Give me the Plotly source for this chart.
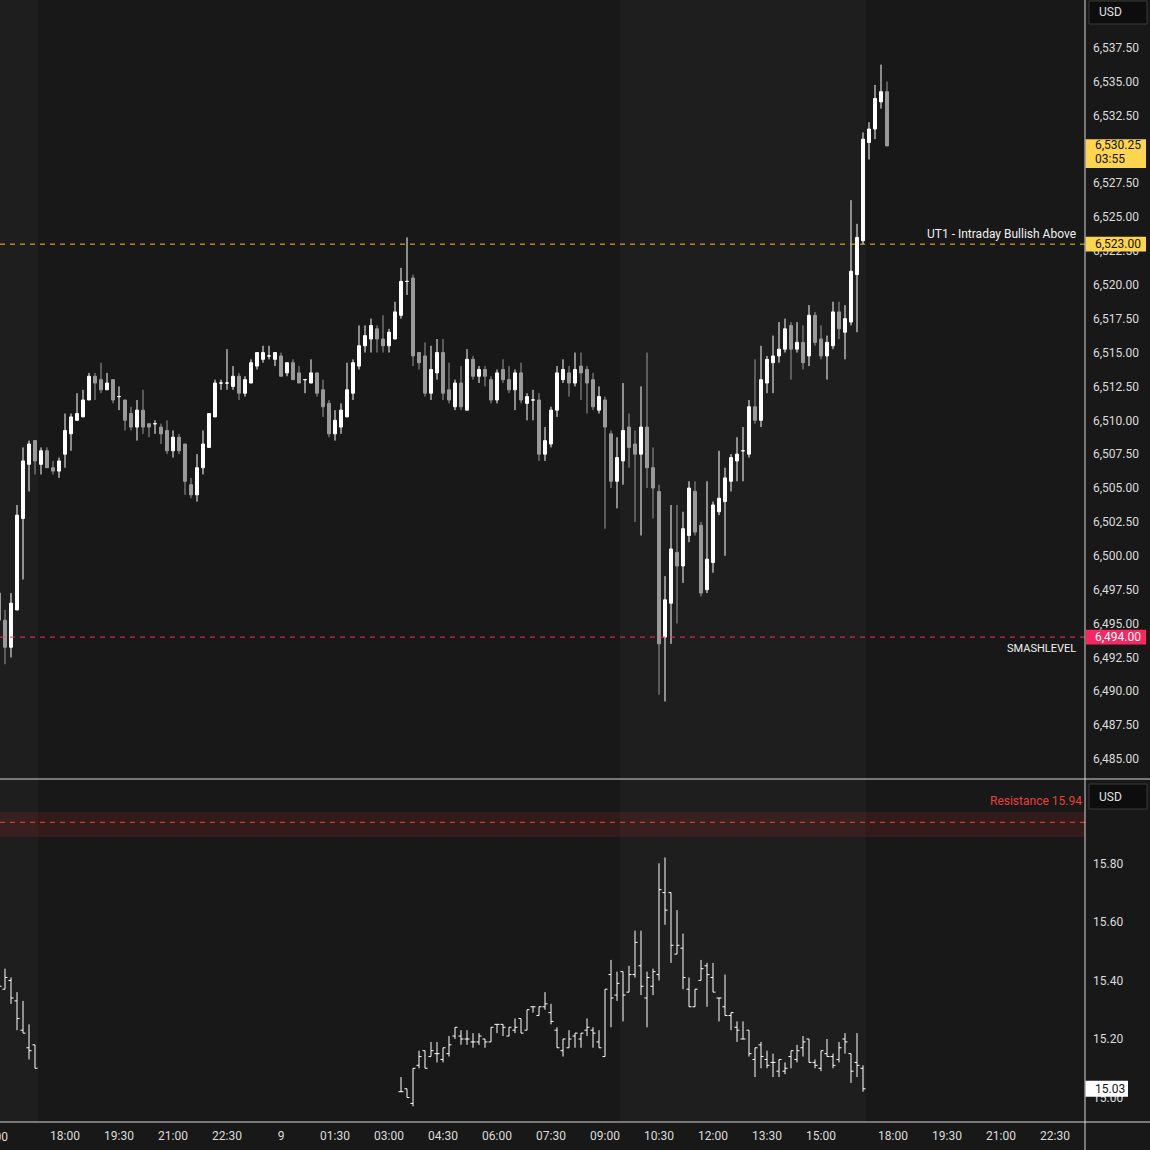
import plotly.graph_objects as go

# ---------------- ES 10-minute candles (bar index -1 .. 147) ----------------
bar = list(range(-1, 148))
es_open = [
    6497.25,
    6495.25, 6493.25, 6496.0, 6502.75, 6506.75, 6508.5, 6506.75, 6507.75, 6506.5, 6506.25,
    6507.5, 6509.0, 6510.0, 6510.25, 6511.5, 6513.25, 6513.0, 6512.25, 6513.0, 6511.75,
    6511.5, 6510.5, 6509.5, 6510.75, 6509.75, 6509.75, 6509.5, 6509.25, 6507.75, 6508.75,
    6508.25, 6505.25, 6504.5, 6506.5, 6508.0, 6510.25, 6512.75, 6512.75, 6512.5, 6513.25,
    6512.0, 6512.75, 6514.0, 6514.5, 6514.75, 6514.5, 6514.75, 6513.5, 6514.25, 6513.5,
    6513.0, 6512.75, 6513.5, 6512.25, 6511.25, 6509.0, 6509.5, 6510.25, 6512.0, 6514.0,
    6515.5, 6516.0, 6516.75, 6516.0, 6515.5, 6516.0, 6517.75, 6520.25, 6520.5, 6515.0,
    6514.75, 6512.0, 6513.5, 6515.0, 6512.25, 6511.0, 6512.75, 6510.75, 6514.5, 6513.25,
    6513.75, 6513.0, 6511.5, 6513.75, 6513.0, 6512.25, 6513.5, 6511.25, 6511.5, 6511.5,
    6507.5, 6508.25, 6510.75, 6513.0, 6513.5, 6512.75, 6514.0, 6513.75, 6513.0, 6510.75,
    6511.5, 6509.0, 6505.5, 6507.0, 6509.5, 6508.25, 6507.5, 6509.5, 6506.5, 6504.75,
    6494.0, 6496.5, 6500.25, 6499.25, 6501.5, 6504.75, 6502.25, 6497.5, 6499.5, 6503.25,
    6504.0, 6505.5, 6507.0, 6507.75, 6507.5, 6511.0, 6510.0, 6512.75, 6514.25, 6514.75,
    6515.25, 6517.0, 6515.25, 6515.75, 6514.75, 6517.75, 6516.0, 6514.75, 6515.5, 6518.0,
    6516.5, 6517.25, 6520.75, 6523.25, 6530.5, 6531.5, 6533.5, 6534.25,
]
es_high = [
    6497.5,
    6496.0, 6497.25, 6503.75, 6508.0, 6508.5, 6508.5, 6508.0, 6508.0, 6507.0, 6507.25,
    6510.5, 6510.5, 6512.0, 6512.25, 6513.5, 6513.5, 6514.25, 6513.5, 6513.0, 6512.5,
    6511.5, 6511.0, 6511.5, 6512.25, 6509.75, 6510.0, 6509.75, 6510.0, 6509.25, 6509.0,
    6508.25, 6505.75, 6507.5, 6509.25, 6510.5, 6513.0, 6513.0, 6515.25, 6514.0, 6513.5,
    6513.25, 6514.5, 6515.0, 6515.5, 6515.5, 6515.0, 6515.0, 6514.25, 6514.5, 6514.0,
    6513.0, 6514.5, 6513.5, 6513.0, 6511.5, 6510.75, 6511.25, 6514.25, 6514.5, 6517.0,
    6517.0, 6517.5, 6517.0, 6517.75, 6516.75, 6518.75, 6521.25, 6523.5, 6520.75, 6515.0,
    6515.75, 6515.5, 6516.0, 6516.0, 6514.25, 6513.0, 6514.0, 6515.25, 6514.75, 6514.0,
    6514.0, 6513.25, 6513.75, 6514.5, 6514.0, 6513.75, 6514.25, 6512.0, 6512.25, 6512.0,
    6509.5, 6511.0, 6514.0, 6514.5, 6514.0, 6515.0, 6515.0, 6514.0, 6513.5, 6512.5,
    6511.75, 6509.25, 6508.75, 6512.75, 6510.5, 6509.25, 6512.5, 6515.0, 6508.0, 6505.25,
    6498.5, 6503.75, 6503.75, 6503.25, 6505.5, 6505.5, 6502.5, 6505.5, 6504.0, 6507.75,
    6506.5, 6507.5, 6508.75, 6509.5, 6511.5, 6514.5, 6515.5, 6514.75, 6516.25, 6517.25,
    6517.5, 6517.25, 6517.25, 6517.0, 6518.5, 6518.0, 6517.0, 6516.25, 6518.75, 6518.75,
    6518.5, 6526.25, 6524.5, 6531.25, 6532.0, 6534.75, 6536.25, 6535.0,
]
es_low = [
    6495.0,
    6492.0, 6492.5, 6496.0, 6498.25, 6504.75, 6506.0, 6506.0, 6506.5, 6506.0, 6505.75,
    6506.5, 6507.75, 6510.0, 6510.25, 6511.5, 6511.5, 6512.0, 6512.25, 6511.25, 6510.75,
    6509.25, 6509.25, 6508.5, 6509.0, 6508.75, 6509.0, 6508.25, 6507.5, 6507.25, 6507.5,
    6504.5, 6504.25, 6504.0, 6506.0, 6508.0, 6510.25, 6512.25, 6512.25, 6512.25, 6511.5,
    6511.75, 6512.75, 6513.75, 6514.25, 6514.5, 6514.0, 6513.25, 6513.25, 6513.0, 6512.75,
    6512.0, 6512.75, 6511.75, 6510.25, 6508.75, 6508.5, 6509.0, 6510.25, 6511.5, 6513.75,
    6515.0, 6515.0, 6515.0, 6515.0, 6515.0, 6516.0, 6517.5, 6519.25, 6514.0, 6513.75,
    6511.75, 6511.5, 6513.0, 6511.5, 6511.25, 6510.75, 6510.75, 6510.75, 6513.0, 6512.75,
    6512.5, 6511.25, 6511.25, 6512.75, 6512.0, 6510.75, 6511.25, 6510.0, 6510.0, 6507.0,
    6507.0, 6508.0, 6510.25, 6512.75, 6511.75, 6512.5, 6511.5, 6510.5, 6510.75, 6510.5,
    6502.0, 6505.0, 6503.5, 6505.25, 6506.5, 6502.5, 6501.5, 6505.0, 6502.75, 6489.75,
    6489.25, 6493.5, 6495.0, 6498.0, 6501.0, 6501.5, 6497.0, 6497.25, 6498.75, 6503.0,
    6500.0, 6504.75, 6505.5, 6505.5, 6507.25, 6509.75, 6509.5, 6512.0, 6512.0, 6514.25,
    6515.0, 6513.0, 6515.0, 6513.75, 6514.0, 6515.5, 6514.5, 6513.0, 6515.25, 6516.0,
    6514.5, 6517.0, 6516.5, 6523.0, 6529.25, 6530.75, 6533.0, 6530.25,
]
es_close = [
    6495.25,
    6493.25, 6496.5, 6503.0, 6507.0, 6508.25, 6507.0, 6507.75, 6506.5, 6506.25, 6507.0,
    6509.25, 6510.25, 6510.5, 6511.5, 6513.25, 6512.75, 6512.25, 6512.75, 6511.5, 6511.75,
    6510.0, 6509.5, 6510.75, 6509.5, 6509.5, 6509.75, 6509.0, 6507.75, 6508.75, 6507.75,
    6505.5, 6504.5, 6506.5, 6508.25, 6510.5, 6512.75, 6512.75, 6512.75, 6513.25, 6512.0,
    6513.0, 6514.25, 6515.0, 6515.0, 6514.75, 6515.0, 6513.25, 6514.25, 6513.0, 6512.75,
    6513.0, 6513.5, 6512.0, 6511.0, 6509.0, 6510.0, 6510.75, 6512.25, 6514.25, 6515.5,
    6516.25, 6517.0, 6516.0, 6515.5, 6516.5, 6518.0, 6520.25, 6520.25, 6514.75, 6514.25,
    6512.0, 6513.75, 6515.0, 6512.0, 6511.5, 6512.75, 6511.0, 6514.5, 6513.25, 6513.75,
    6513.25, 6511.5, 6513.5, 6513.0, 6512.25, 6513.5, 6511.5, 6511.75, 6511.5, 6507.5,
    6508.5, 6510.75, 6513.5, 6513.75, 6512.75, 6513.75, 6513.5, 6512.75, 6511.0, 6511.75,
    6509.5, 6505.5, 6507.25, 6509.25, 6508.0, 6507.5, 6509.5, 6506.5, 6505.0, 6493.5,
    6496.75, 6500.5, 6499.25, 6502.0, 6505.0, 6501.75, 6497.25, 6499.75, 6503.75, 6504.25,
    6505.75, 6507.25, 6507.5, 6507.75, 6511.0, 6510.0, 6513.0, 6514.5, 6514.75, 6515.25,
    6516.75, 6515.25, 6515.75, 6514.25, 6517.75, 6515.75, 6514.75, 6515.75, 6518.0, 6516.75,
    6517.5, 6521.0, 6523.5, 6530.75, 6531.5, 6533.75, 6534.25, 6530.25,
]

# ---------------- VIX 10-minute bars ----------------
vix_bar = list(range(-1, 6)) + list(range(66, 144))
vix_open = [
    15.37, 15.37, 15.40, 15.33, 15.23, 15.17, 15.18,
    15.02, 15.03, 14.98, 15.11, 15.16, 15.14, 15.15, 15.13, 15.15, 15.21,
    15.21, 15.20, 15.19, 15.19, 15.20, 15.19, 15.25, 15.25, 15.21, 15.23,
    15.27, 15.23, 15.31, 15.28, 15.31, 15.29, 15.23, 15.16, 15.17, 15.21,
    15.20, 15.23, 15.23, 15.19, 15.14, 15.42, 15.35, 15.43, 15.36, 15.42,
    15.45, 15.34, 15.38, 15.42, 15.70, 15.70, 15.49, 15.51, 15.37, 15.31,
    15.40, 15.45, 15.41, 15.34, 15.31, 15.28, 15.24, 15.20, 15.23, 15.13,
    15.18, 15.13, 15.12, 15.09, 15.09, 15.14, 15.13, 15.17, 15.20, 15.12,
    15.10, 15.15, 15.14, 15.13, 15.20, 15.15, 15.12, 15.10,
]
vix_high = [
    15.40, 15.44, 15.41, 15.36, 15.33, 15.25, 15.18,
    15.07, 15.03, 15.10, 15.16, 15.16, 15.19, 15.19, 15.17, 15.21, 15.24,
    15.23, 15.23, 15.22, 15.22, 15.20, 15.24, 15.25, 15.25, 15.24, 15.27,
    15.27, 15.30, 15.31, 15.31, 15.36, 15.32, 15.24, 15.20, 15.23, 15.22,
    15.22, 15.27, 15.24, 15.23, 15.37, 15.47, 15.43, 15.43, 15.45, 15.57,
    15.57, 15.43, 15.44, 15.80, 15.82, 15.70, 15.64, 15.56, 15.41, 15.37,
    15.47, 15.46, 15.46, 15.34, 15.42, 15.29, 15.26, 15.26, 15.23, 15.17,
    15.19, 15.16, 15.15, 15.13, 15.12, 15.16, 15.18, 15.21, 15.20, 15.13,
    15.16, 15.20, 15.15, 15.19, 15.22, 15.15, 15.22, 15.11,
]
vix_low = [
    15.36, 15.37, 15.32, 15.23, 15.22, 15.13, 15.10,
    15.02, 15.00, 14.97, 15.10, 15.10, 15.14, 15.12, 15.12, 15.14, 15.20,
    15.18, 15.18, 15.17, 15.18, 15.17, 15.19, 15.22, 15.21, 15.21, 15.22,
    15.22, 15.23, 15.29, 15.28, 15.30, 15.25, 15.17, 15.14, 15.17, 15.17,
    15.17, 15.21, 15.17, 15.17, 15.14, 15.24, 15.33, 15.26, 15.36, 15.41,
    15.35, 15.24, 15.35, 15.40, 15.59, 15.46, 15.49, 15.37, 15.31, 15.31,
    15.40, 15.31, 15.36, 15.26, 15.28, 15.23, 15.19, 15.20, 15.14, 15.07,
    15.10, 15.10, 15.07, 15.07, 15.08, 15.10, 15.12, 15.14, 15.12, 15.10,
    15.09, 15.14, 15.10, 15.12, 15.15, 15.05, 15.07, 15.02,
]
vix_close = [
    15.38, 15.41, 15.34, 15.27, 15.22, 15.16, 15.10,
    15.02, 15.00, 15.10, 15.14, 15.10, 15.16, 15.15, 15.17, 15.18, 15.24,
    15.20, 15.20, 15.19, 15.21, 15.19, 15.24, 15.25, 15.24, 15.24, 15.24,
    15.22, 15.30, 15.31, 15.31, 15.32, 15.26, 15.17, 15.20, 15.20, 15.22,
    15.22, 15.24, 15.22, 15.17, 15.37, 15.34, 15.39, 15.35, 15.42, 15.53,
    15.38, 15.41, 15.43, 15.71, 15.64, 15.52, 15.52, 15.41, 15.31, 15.37,
    15.44, 15.42, 15.36, 15.34, 15.28, 15.29, 15.23, 15.20, 15.15, 15.17,
    15.14, 15.11, 15.12, 15.13, 15.10, 15.16, 15.16, 15.19, 15.12, 15.11,
    15.16, 15.14, 15.11, 15.17, 15.19, 15.09, 15.11, 15.03,
]

# ---------------- axis ticks / levels ----------------
time_tick_bar = [10, 19, 28, 37, 46, 55, 64, 73, 82, 91, 100, 109, 118, 127, 136, 148, 157, 166, 175]
time_tick_text = ["18:00", "19:30", "21:00", "22:30", "9", "01:30", "03:00", "04:30", "06:00",
                  "07:30", "09:00", "10:30", "12:00", "13:30", "15:00", "18:00", "19:30", "21:00", "22:30"]
es_ticks = [6485.0, 6487.5, 6490.0, 6492.5, 6495.0, 6497.5, 6500.0, 6502.5, 6505.0, 6507.5, 6510.0,
            6512.5, 6515.0, 6517.5, 6520.0, 6522.5, 6525.0, 6527.5, 6530.0, 6532.5, 6535.0, 6537.5]
vix_ticks = [15.00, 15.20, 15.40, 15.60, 15.80]
session_bands = [(-0.84, 5.5), (102.5, 143.5)]   # regular-hours shading, in bar index
ut1_level = 6523.00
smash_level = 6494.00
resistance_level = 15.94
resistance_zone = (15.89, 15.975)
countdown = "03:55"

X_RANGE = [-0.8333, 180.0]
ES_RANGE = [6483.6, 6541.02]
VIX_RANGE = [14.9165, 16.0845]

BG = "#181818"
BAND = "#1e1e1e"
UP = "#ffffff"
DOWN = "#9a9a9a"
TXT = "#dcdcdc"
FONT = "Roboto"
W, H = 1150, 1150
PLOT_W, PLOT_H = 1085, 1122

fig = go.Figure()

up_i = [i for i in range(len(bar)) if es_close[i] >= es_open[i]]
dn_i = [i for i in range(len(bar)) if es_close[i] < es_open[i]]
for idx, col in ((up_i, UP), (dn_i, DOWN)):
    fig.add_trace(go.Candlestick(
        x=[bar[i] for i in idx], open=[es_open[i] for i in idx], high=[es_high[i] for i in idx],
        low=[es_low[i] for i in idx], close=[es_close[i] for i in idx],
        increasing=dict(line=dict(color=col, width=1), fillcolor=col),
        decreasing=dict(line=dict(color=col, width=1), fillcolor=col),
        whiskerwidth=0, xaxis="x", yaxis="y", showlegend=False, hoverinfo="skip"))

fig.add_trace(go.Ohlc(
    x=vix_bar, open=vix_open, high=vix_high, low=vix_low, close=vix_close,
    increasing=dict(line=dict(color="#ffffff", width=1)),
    decreasing=dict(line=dict(color="#ffffff", width=1)),
    tickwidth=0.42, xaxis="x2", yaxis="y2", showlegend=False, hoverinfo="skip"))

def px_x(p):
    return p / PLOT_W

def px_y(p):
    return (PLOT_H - p) / PLOT_H

shapes = []
for x0, x1 in session_bands:
    shapes.append(dict(type="rect", xref="x", yref="paper", x0=x0, x1=x1, y0=0, y1=1,
                       fillcolor=BAND, line=dict(width=0), layer="below"))
# level lines
shapes.append(dict(type="line", xref="paper", yref="y", x0=0, x1=1, y0=ut1_level, y1=ut1_level,
                   line=dict(color="#f5c31c", width=1, dash="5px,5px")))
shapes.append(dict(type="line", xref="paper", yref="y", x0=0, x1=1, y0=smash_level, y1=smash_level,
                   line=dict(color="#ff2a5f", width=1, dash="5px,5px")))
shapes.append(dict(type="rect", xref="paper", yref="y2", x0=0, x1=1,
                   y0=resistance_zone[0], y1=resistance_zone[1],
                   fillcolor="rgba(150,40,40,0.22)", line=dict(width=0), layer="below"))
shapes.append(dict(type="line", xref="paper", yref="y2", x0=0, x1=1,
                   y0=resistance_level, y1=resistance_level,
                   line=dict(color="#f0463c", width=1, dash="5px,5px")))
# separators
shapes.append(dict(type="line", xref="paper", yref="paper", x0=1, x1=1, y0=px_y(1150), y1=1,
                   line=dict(color="#d6d6d6", width=1)))
shapes.append(dict(type="line", xref="paper", yref="paper", x0=0, x1=px_x(1150), y0=px_y(779), y1=px_y(779),
                   line=dict(color="#d6d6d6", width=1)))
shapes.append(dict(type="line", xref="paper", yref="paper", x0=0, x1=px_x(1150), y0=0, y1=0,
                   line=dict(color="#d6d6d6", width=1)))
# USD boxes
for top, bot in ((1, 24), (784, 809)):
    shapes.append(dict(type="rect", xref="paper", yref="paper", x0=px_x(1089), x1=px_x(1147),
                       y0=px_y(bot), y1=px_y(top), fillcolor="#0d0d0d",
                       line=dict(color="#3a3a3a", width=1)))

last_close = es_close[-1]
vix_last = vix_close[-1]
BX0, BX1 = px_x(1085.5), px_x(1146)
# price boxes
shapes.append(dict(type="rect", xref="paper", yref="y", x0=BX0, x1=BX1,
                   y0=last_close - 1.63, y1=last_close + 0.5, fillcolor="#fdd54f", line=dict(width=0)))
shapes.append(dict(type="rect", xref="paper", yref="y", x0=BX0, x1=BX1,
                   y0=ut1_level - 0.55, y1=ut1_level + 0.55, fillcolor="#fdd54f", line=dict(width=0)))
shapes.append(dict(type="rect", xref="paper", yref="y", x0=BX0, x1=BX1,
                   y0=smash_level - 0.55, y1=smash_level + 0.55, fillcolor="#f5285f", line=dict(width=0)))
shapes.append(dict(type="rect", xref="paper", yref="y2", x0=BX0, x1=px_x(1128),
                   y0=vix_last - 0.027, y1=vix_last + 0.027, fillcolor="#ffffff", line=dict(width=0)))

TX = px_x(1093)
ann = []
ann.append(dict(xref="paper", yref="y", x=TX, y=last_close, yshift=1, text=f"{last_close:,.2f}",
                xanchor="left", yanchor="middle", showarrow=False, font=dict(color="#131313", size=12)))
ann.append(dict(xref="paper", yref="y", x=TX, y=last_close, yshift=-13, text=countdown,
                xanchor="left", yanchor="middle", showarrow=False, font=dict(color="#131313", size=12)))
ann.append(dict(xref="paper", yref="y", x=TX, y=ut1_level, text=f"{ut1_level:,.2f}",
                xanchor="left", yanchor="middle", showarrow=False, font=dict(color="#131313", size=12)))
ann.append(dict(xref="paper", yref="y", x=TX, y=smash_level, text=f"{smash_level:,.2f}",
                xanchor="left", yanchor="middle", showarrow=False, font=dict(color="#ffffff", size=12)))
ann.append(dict(xref="paper", yref="y2", x=TX, y=vix_last, text=f"{vix_last:.2f}",
                xanchor="left", yanchor="middle", showarrow=False, font=dict(color="#131313", size=12)))
ann.append(dict(xref="paper", yref="y", x=px_x(1078), y=ut1_level, yshift=10,
                text="UT1 - Intraday Bullish Above", xanchor="right", yanchor="middle",
                showarrow=False, font=dict(color="#f0f0f0", size=12)))
ann.append(dict(xref="paper", yref="y", x=px_x(1078), y=smash_level, yshift=-11,
                text="SMASHLEVEL", xanchor="right", yanchor="middle",
                showarrow=False, font=dict(color="#f0f0f0", size=11)))
ann.append(dict(xref="paper", yref="y2", x=px_x(1084), y=resistance_level, yshift=21,
                text=f"Resistance {resistance_level:.2f}", xanchor="right", yanchor="middle",
                showarrow=False, font=dict(color="#e8403a", size=12)))
for top, bot in ((1, 24), (784, 809)):
    ann.append(dict(xref="paper", yref="paper", x=px_x(1097), y=px_y((top + bot) / 2), text="USD",
                    xanchor="left", yanchor="middle", showarrow=False, font=dict(color="#e0e0e0", size=12)))
# partially visible first time label
ann.append(dict(xref="paper", yref="paper", x=px_x(-7), y=0, yshift=-15, text="15:00",
                xanchor="center", yanchor="middle", showarrow=False, font=dict(color=TXT, size=12)))

axis_common = dict(showgrid=False, zeroline=False, showline=False, ticks="")
fig.update_layout(
    width=W, height=H, margin=dict(l=0, r=W - PLOT_W, t=0, b=H - PLOT_H),
    paper_bgcolor=BG, plot_bgcolor="rgba(0,0,0,0)",
    font=dict(family=FONT, color=TXT, size=12),
    showlegend=False, boxgap=0.3,
    xaxis=dict(domain=[0, 1], anchor="y", range=X_RANGE, matches="x2", showticklabels=False,
               rangeslider=dict(visible=False), **axis_common),
    xaxis2=dict(domain=[0, 1], anchor="y2", range=X_RANGE, tickvals=time_tick_bar, ticktext=time_tick_text,
                tickfont=dict(size=12, color=TXT), ticklabelstandoff=5,
                rangeslider=dict(visible=False), **axis_common),
    yaxis=dict(domain=[px_y(778), 1], anchor="x", side="right", range=ES_RANGE, tickvals=es_ticks,
               tickformat=",.2f", tickfont=dict(size=12, color=TXT), ticklabelstandoff=7, **axis_common),
    yaxis2=dict(domain=[0, px_y(780)], anchor="x2", side="right", range=VIX_RANGE, tickvals=vix_ticks,
                tickformat=".2f", tickfont=dict(size=12, color=TXT), ticklabelstandoff=7, **axis_common),
    shapes=shapes, annotations=ann,
)

fig.write_html("out.html", config={"displayModeBar": False},
               post_script="document.body.style.margin='0px';document.body.style.background='%s';" % BG)
